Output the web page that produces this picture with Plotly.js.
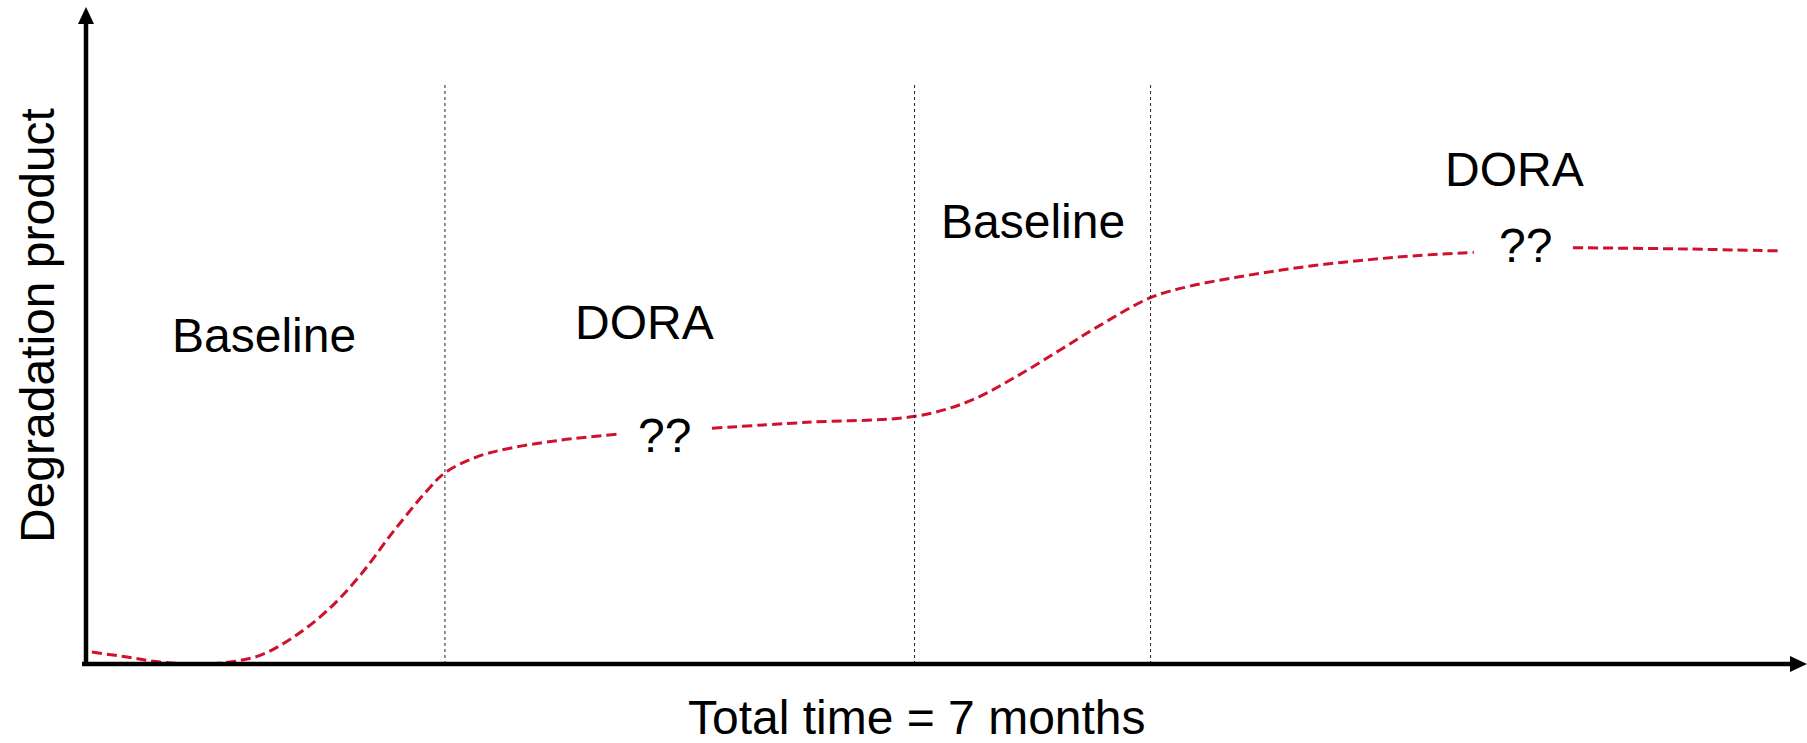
<!DOCTYPE html>
<html>
<head>
<meta charset="utf-8">
<script src="https://cdn.plot.ly/plotly-3.0.1.min.js"></script>
<style>
  html, body { margin: 0; padding: 0; background: #ffffff; }
  #chart { width: 1807px; height: 743px; }
</style>
</head>
<body>
<div id="chart"></div>
<script>
// ---- Data (time in months, degradation product in arbitrary units) ----
const seg1Time = [0.024, 0.167, 0.301, 0.464, 0.586, 0.708, 0.842, 0.980, 1.114, 1.249, 1.387, 1.460, 1.590, 1.725, 1.928, 2.160];
const seg1Deg  = [1.8,   1.05,  0.3,   0.0,   0.3,   1.3,   4.0,   8.0,   13.3,  19.9,  26.1,  28.8,  31.2,  32.5,  33.7,  34.6];

const seg2Time = [2.546, 2.933, 3.372, 3.587, 3.775, 3.962, 4.124, 4.332, 4.490, 4.673, 4.856, 5.039, 5.222, 5.410, 5.645];
const seg2Deg  = [35.5,  36.4,  37.3,  39.5,  43.1,  47.3,  51.0,  55.2,  56.9,  58.2,  59.3,  60.2,  60.9,  61.5,  62.0];

const seg3Time = [6.048, 6.508, 6.902];
const seg3Deg  = [62.7,  62.5,  62.2];

const phaseBoundaries = [1.46, 3.37, 4.33];
const boundaryTop = 87.5;

const phaseLabels = ["Baseline", "DORA", "Baseline", "DORA"];
const phaseLabelTime = [0.724, 2.270, 3.852, 5.812];
const phaseLabelDeg  = [49.5, 51.4, 66.7, 74.5];

const unknownLabels = ["??", "??"];
const unknownTime = [2.355, 5.857];
const unknownDeg  = [34.4, 63.1];

const xTitle = "Total time = 7 months";
const yTitle = "Degradation product";

// ---- Styling ----
const FONT = "Liberation Sans, Arial, Helvetica, sans-serif";
const FS = 48;
const RED = "#d0112b";

const lineStyle = { color: RED, width: 3, dash: "10px,5px", shape: "spline", smoothing: 1 };

const traces = [
  { x: seg1Time, y: seg1Deg, mode: "lines", line: lineStyle, hoverinfo: "skip", showlegend: false, cliponaxis: false },
  { x: seg2Time, y: seg2Deg, mode: "lines", line: lineStyle, hoverinfo: "skip", showlegend: false, cliponaxis: false },
  { x: seg3Time, y: seg3Deg, mode: "lines", line: lineStyle, hoverinfo: "skip", showlegend: false, cliponaxis: false }
];

const W = 1807, H = 743, ML = 86, MB = 79;
const plotW = W - ML, plotH = H - MB;
const px2x = p => (p - ML) / plotW;   // pixel -> paper x
const py2y = p => (plotH - p) / plotH; // pixel -> paper y

const shapes = [];
phaseBoundaries.forEach(b => {
  shapes.push({ type: "line", xref: "x", yref: "y", x0: b, x1: b, y0: 0, y1: boundaryTop,
                line: { color: "#222222", width: 1, dash: "dot" } });
});
// axis lines with arrow heads
shapes.push({ type: "line", xref: "paper", yref: "paper", x0: 0, x1: 0, y0: py2y(666), y1: py2y(22),
              line: { color: "#000", width: 4.5 } });
shapes.push({ type: "line", xref: "paper", yref: "paper", x0: px2x(82), x1: px2x(1792), y0: 0, y1: 0,
              line: { color: "#000", width: 4.5 } });
shapes.push({ type: "path", xref: "paper", yref: "paper",
              path: `M ${px2x(86)} ${py2y(7)} L ${px2x(78)} ${py2y(24)} L ${px2x(94)} ${py2y(24)} Z`,
              fillcolor: "#000", line: { color: "#000", width: 0 } });
shapes.push({ type: "path", xref: "paper", yref: "paper",
              path: `M ${px2x(1807)} ${py2y(664)} L ${px2x(1790)} ${py2y(656)} L ${px2x(1790)} ${py2y(672)} Z`,
              fillcolor: "#000", line: { color: "#000", width: 0 } });

const annotations = [];
phaseLabels.forEach((t, i) => {
  annotations.push({ text: t, x: phaseLabelTime[i], y: phaseLabelDeg[i], xref: "x", yref: "y",
                     showarrow: false, xanchor: "center", yanchor: "middle",
                     font: { family: FONT, size: FS, color: "#000" } });
});
unknownLabels.forEach((t, i) => {
  annotations.push({ text: t, x: unknownTime[i], y: unknownDeg[i], xref: "x", yref: "y",
                     showarrow: false, xanchor: "center", yanchor: "middle",
                     font: { family: FONT, size: FS, color: "#000" } });
});
annotations.push({ text: xTitle, xref: "paper", yref: "paper", x: px2x(917), y: py2y(718),
                   showarrow: false, xanchor: "center", yanchor: "middle",
                   font: { family: FONT, size: FS, color: "#000" } });
annotations.push({ text: yTitle, xref: "paper", yref: "paper", x: px2x(37), y: py2y(326),
                   showarrow: false, xanchor: "center", yanchor: "middle", textangle: -90,
                   font: { family: FONT, size: FS, color: "#000" } });

const layout = {
  width: W, height: H,
  margin: { l: ML, r: 0, t: 0, b: MB, pad: 0 },
  paper_bgcolor: "#ffffff", plot_bgcolor: "#ffffff",
  xaxis: { range: [0, 7], visible: false, fixedrange: true },
  yaxis: { range: [0, 100], visible: false, fixedrange: true },
  shapes: shapes,
  annotations: annotations,
  showlegend: false
};

Plotly.newPlot("chart", traces, layout, { staticPlot: true, displayModeBar: false });
</script>
</body>
</html>
